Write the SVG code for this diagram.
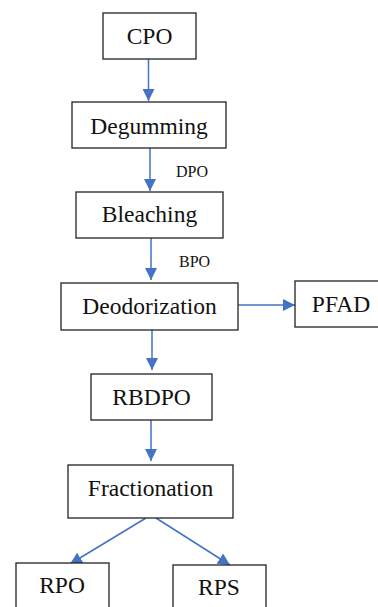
<svg xmlns="http://www.w3.org/2000/svg" width="378" height="607" viewBox="0 0 378 607">
<style>
.box{fill:#fff;stroke:#222;stroke-width:1.3}
.t{font-family:'Liberation Serif','Times New Roman','DejaVu Serif',serif;font-size:23.5px;fill:#111;text-anchor:middle}
.s{font-family:'Liberation Serif','Times New Roman','DejaVu Serif',serif;font-size:16px;fill:#111}
.c{stroke:#4472C4;stroke-width:1.5;fill:none}
</style>
<defs>
<marker id="ah" markerWidth="12" markerHeight="12" viewBox="0 0 12 12" refX="12" refY="6" orient="auto" markerUnits="userSpaceOnUse">
<path d="M0,0 L12,6 L0,12 Z" fill="#4472C4"/>
</marker>
</defs>
<rect width="378" height="607" fill="#fff"/>
<g id="connectors">
<line class="c" x1="148.5" y1="59" x2="148.5" y2="101" marker-end="url(#ah)"/>
<line class="c" x1="150" y1="148" x2="150" y2="191" marker-end="url(#ah)"/>
<line class="c" x1="151" y1="238" x2="151" y2="280" marker-end="url(#ah)"/>
<line class="c" x1="238" y1="305" x2="295" y2="305" marker-end="url(#ah)"/>
<line class="c" x1="152" y1="330" x2="152" y2="370" marker-end="url(#ah)"/>
<line class="c" x1="151" y1="420" x2="151" y2="461" marker-end="url(#ah)"/>
<line class="c" x1="146" y1="518" x2="70" y2="564" marker-end="url(#ah)"/>
<line class="c" x1="156" y1="518" x2="230" y2="565" marker-end="url(#ah)"/>
<text class="s" x="176" y="177">DPO</text>
<text class="s" x="179" y="267">BPO</text>
</g>
<g id="cpo"><rect class="box" x="103" y="13" width="93" height="46"/><text class="t" x="149.5" y="44">CPO</text></g>
<g id="degumming"><rect class="box" x="72" y="102" width="154" height="46"/><text class="t" x="149" y="134">Degumming</text></g>
<g id="bleaching"><rect class="box" x="76" y="192" width="147" height="46"/><text class="t" x="149.5" y="222">Bleaching</text></g>
<g id="deodorization"><rect class="box" x="61" y="283" width="177" height="47"/><text class="t" x="149.5" y="314">Deodorization</text></g>
<g id="pfad"><rect class="box" x="295" y="281" width="90" height="46"/><text class="t" x="341" y="312">PFAD</text></g>
<g id="rbdpo"><rect class="box" x="91" y="374" width="121" height="46"/><text class="t" x="151.5" y="405">RBDPO</text></g>
<g id="fractionation"><rect class="box" x="68" y="465" width="165" height="53"/><text class="t" x="150.5" y="496">Fractionation</text></g>
<g id="rpo"><rect class="box" x="16" y="563" width="93" height="50"/><text class="t" x="62" y="593">RPO</text></g>
<g id="rps"><rect class="box" x="173" y="565" width="93" height="50"/><text class="t" x="219" y="595">RPS</text></g>
</svg>
